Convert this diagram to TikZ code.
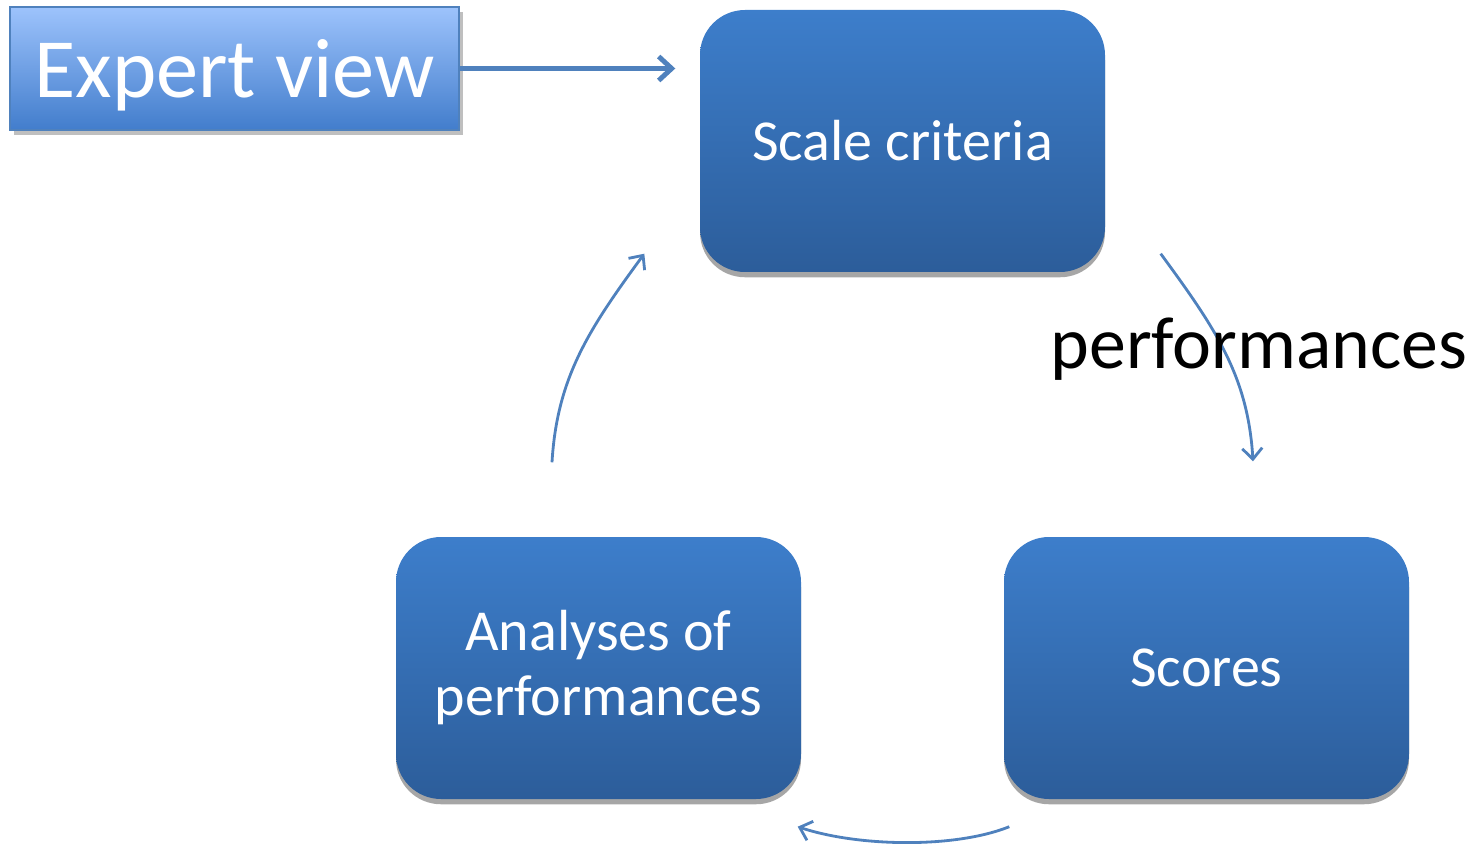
\documentclass[tikz,border=0pt]{standalone}
\usepackage{fontspec}
\setmainfont{Carlito}
\usepackage{tikz}
\usetikzlibrary{positioning,arrows.meta,calc,shadows}
\definecolor{boxtop}{RGB}{61,126,203}
\definecolor{boxbot}{RGB}{44,93,154}
\definecolor{exptop}{RGB}{157,195,252}
\definecolor{expbot}{RGB}{66,125,204}
\definecolor{linkblue}{RGB}{79,129,189}
\tikzset{
  stepbox/.style={rounded corners=0.45cm,minimum width=4.05cm,minimum height=2.62cm,
    top color=boxtop,bottom color=boxbot,draw=none,text=white,align=center,
    font=\fontsize{16.5}{18.5}\selectfont,
    drop shadow={shadow xshift=0pt,shadow yshift=-1.5pt,opacity=.35,fill=black}},
  viewbox/.style={minimum width=4.49cm,minimum height=1.23cm,inner sep=0pt,text depth=0pt,
    top color=exptop,bottom color=expbot,draw=linkblue,line width=0.5pt,text=white,
    font=\fontsize{24}{28}\selectfont,
    drop shadow={shadow xshift=1pt,shadow yshift=-1.5pt,opacity=.25,fill=black}},
  feed/.style={-{Straight Barb[length=1.3mm,width=2.4mm]},line width=1.4pt,linkblue},
  cyc/.style={-{Straight Barb[length=1.1mm,width=2mm]},line width=0.8pt,linkblue},
  lbl/.style={font=\fontsize{21}{24}\selectfont,text=black,inner sep=0pt},
}
\begin{document}
\begin{tikzpicture}
  \useasboundingbox (0,0) rectangle (14.74,8.45);
  % the three steps of the loop
  \node[stepbox] (crit) at (9.025,7.04) {Scale criteria};
  \node[stepbox] (scores) at (12.065,1.77) {Scores};
  \node[stepbox] (anal) at (5.985,1.77) {Analyses of\\performances};
  % input from outside the loop
  \node[viewbox] (expert) at (2.345,7.765) {Expert view};
  \draw[feed,shorten >=2.4mm] (expert) -- (expert -| crit.west);
  % loop arrows
  \draw[cyc] ($(crit.south east)+(0.55,0.19)$) .. controls +(0.55,-0.75) and +(-0.05,0.85) .. ($(scores.north)+(0.465,0.75)$);
  \node[lbl,anchor=base] (perf) at (12.59,4.77) {performances};
  \draw[cyc] ($(scores.south west)+(0.06,-0.27)$) .. controls +(-0.55,-0.22) and +(0.6,-0.2) .. ($(anal.south east)+(-0.04,-0.27)$);
  \draw[cyc] ($(anal.north)+(-0.465,0.74)$) .. controls +(0.05,0.85) and +(-0.55,-0.75) .. ($(crit.south west)+(-0.55,0.19)$);
\end{tikzpicture}
\end{document}
